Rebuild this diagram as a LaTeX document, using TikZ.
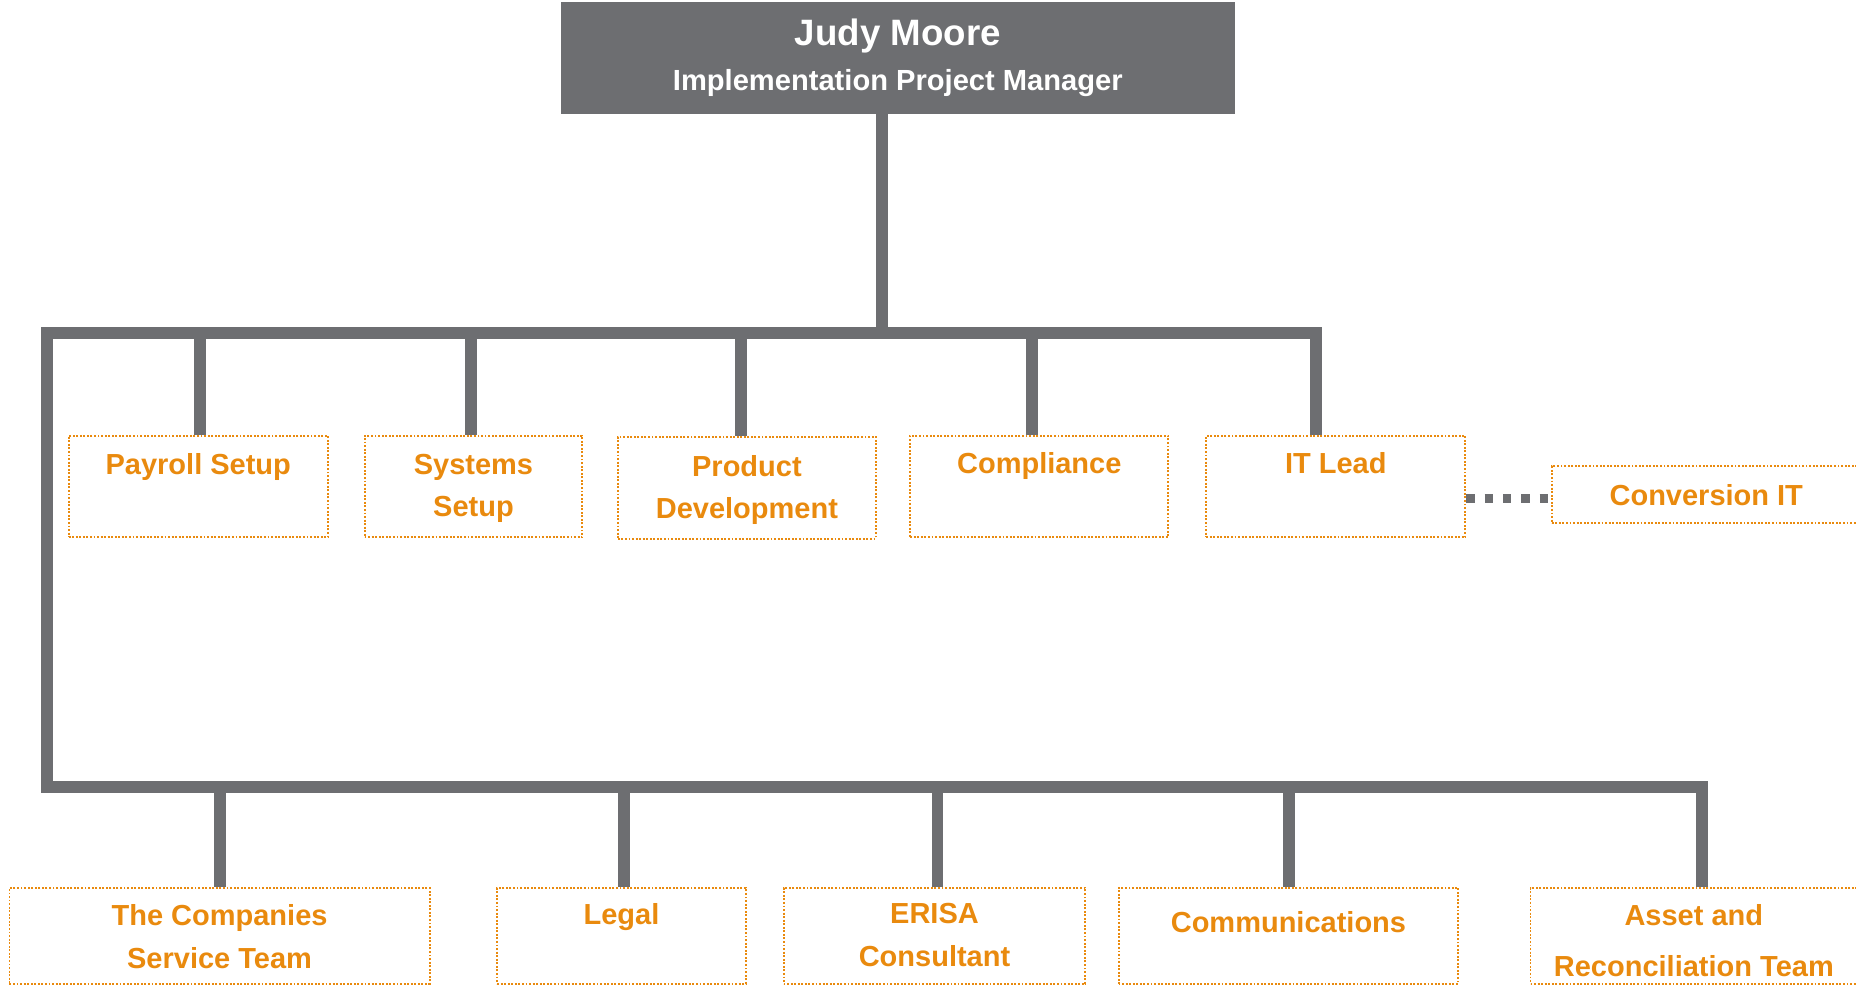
\documentclass[tikz,border=0pt]{standalone}
\usepackage{fontspec}
\setmainfont{Liberation Sans}
\usetikzlibrary{positioning}
\definecolor{chartgray}{HTML}{6D6E71}
\definecolor{chartorange}{HTML}{E98A0E}

\begin{document}
\begin{tikzpicture}[x=1pt,y=-1pt,
    bus/.style={draw=chartgray,line width=10pt},
    dotlink/.style={draw=chartgray,line width=7.5pt,dash pattern=on 7pt off 8.5pt},
    unit/.style={draw=chartorange,line width=1.6pt,dash pattern=on 1.6pt off 1.4pt,inner sep=0pt},
    unitlabel/.style={text=chartorange,inner sep=0pt,align=center,
      font=\fontsize{24.5}{36}\selectfont\bfseries},
    boss/.style={fill=chartgray,text=white,inner sep=0pt,align=center,
      minimum width=569pt,minimum height=94pt}]
  \useasboundingbox (0,0) rectangle (1568,833);

  % manager
  \node[boss] (judy) at (758.5,49)
    {\fontsize{31}{38}\selectfont\bfseries Judy Moore\\[13pt]
     \fontsize{24.6}{30}\selectfont\bfseries Implementation Project Manager};

  % upper row
  \node[unit,minimum width=219pt,minimum height=86pt,
    label={[unitlabel,below=16pt]north:Payroll Setup}] (payroll) at (167.5,411) {};
  \node[unit,minimum width=184pt,minimum height=86pt,
    label={[unitlabel,below=16pt]north:Systems\\Setup}] (systems) at (400,411) {};
  \node[unit,minimum width=218pt,minimum height=86pt,
    label={[unitlabel,below=16pt]north:Product\\Development}] (product) at (631,412) {};
  \node[unit,minimum width=218pt,minimum height=86pt,
    label={[unitlabel,below=15pt]north:Compliance}] (compliance) at (878,411) {};
  \node[unit,minimum width=219pt,minimum height=86pt,
    label={[unitlabel,below=15pt]north:IT Lead}] (itlead) at (1128.5,411) {};
  \node[unit,minimum width=261pt,minimum height=48pt] (conversion) at (1441.5,418) {};
  \node[unitlabel] (conversiontext) at (conversion) {Conversion IT};

  % lower row
  \node[unit,minimum width=355pt,minimum height=81pt,
    label={[unitlabel,below=15pt]north:The Companies\\Service Team}] (companies) at (185.5,790.5) {};
  \node[unit,minimum width=210pt,minimum height=81pt,
    label={[unitlabel,below=14pt]north:Legal}] (legal) at (525,790.5) {};
  \node[unit,minimum width=255pt,minimum height=81pt,
    label={[unitlabel,below=14pt]north:ERISA\\Consultant}] (erisa) at (789.5,790.5) {};
  \node[unit,minimum width=287pt,minimum height=81pt,
    label={[unitlabel,below=21pt]north:Communications}] (communications) at (1088.5,790.5) {};
  \node[unit,minimum width=276pt,minimum height=81pt,
    label={[unitlabel,below=15pt]north:Asset and\\[7pt]Reconciliation Team}] (asset) at (1431,790.5) {};

  % connectors
  \coordinate (corner) at (40,281);
  \coordinate (lowcorner) at (40,665);
  \draw[bus] ([xshift=-13.5pt]judy.south) -- ([xshift=-13.5pt]judy.south |- corner);
  \draw[bus] ([xshift=-17pt]itlead.north) |- (corner) -- (lowcorner) -| ([xshift=7pt]asset.north);
  \foreach \n/\s in {payroll/1.5,systems/-2,product/-5,compliance/-6}
    \draw[bus] ([xshift=\s pt]\n.north) -- ([xshift=\s pt]\n.north |- corner);
  \foreach \n/\s in {companies/0.5,legal/2,erisa/2.5,communications/0.5}
    \draw[bus] ([xshift=\s pt]\n.north) -- ([xshift=\s pt]\n.north |- lowcorner);
  \draw[dotlink] ([yshift=-3pt]itlead.east |- conversion.west) -- ([yshift=-3pt]conversion.west);
\end{tikzpicture}
\end{document}
